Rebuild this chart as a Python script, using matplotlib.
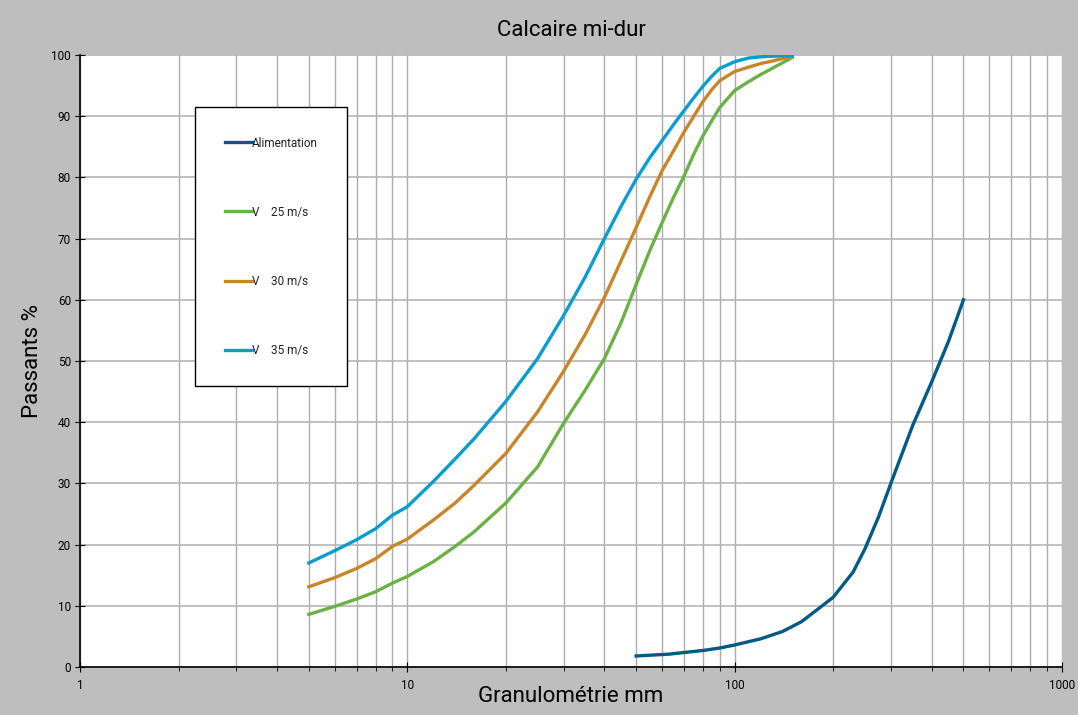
import matplotlib.pyplot as plt
from matplotlib.ticker import LogLocator, FixedLocator, NullFormatter
import numpy as np

plt.rcParams['font.family'] = ['Roboto', 'DejaVu Sans']

# Alimentation (feed)
feed_x = [50, 63, 80, 90, 100, 120, 140, 160, 180, 200, 230, 250, 275, 300, 350, 400, 450, 500]
feed_y = [1.8, 2.1, 2.7, 3.1, 3.6, 4.6, 5.8, 7.4, 9.5, 11.4, 15.5, 19.3, 24.5, 30.0, 39.5, 46.6, 53.2, 60.0]

# crushed product at different rotor speeds
size_x = [5, 6, 7, 8, 9, 10, 12, 14, 16, 20, 25, 30, 35, 40, 45, 50, 55, 60,
          65, 70, 75, 80, 85, 90, 100, 110, 120, 130, 150]
v25_y = [8.6, 9.9, 11.1, 12.3, 13.7, 14.8, 17.2, 19.7, 22.1, 26.8, 32.7, 39.8, 45.3, 50.4,
         56.3, 62.5, 68.0, 72.6, 76.7, 80.2, 83.8, 86.8, 89.2, 91.4, 94.2, 95.6, 96.8, 97.8, 99.6]
v30_y = [13.1, 14.6, 16.1, 17.7, 19.7, 20.9, 24.0, 26.8, 29.7, 34.9, 41.7, 48.3, 54.4, 60.4,
         66.4, 71.8, 76.8, 81.1, 84.3, 87.4, 90.0, 92.4, 94.3, 95.8, 97.3, 98.0, 98.6, 99.0, 99.8]
v35_y = [17.0, 19.0, 20.8, 22.6, 24.8, 26.2, 30.3, 34.0, 37.3, 43.4, 50.4, 57.4, 63.8, 70.0,
         75.3, 79.7, 83.2, 86.0, 88.6, 90.9, 93.0, 94.9, 96.5, 97.8, 98.9, 99.5, 99.7, 99.8, 99.9]

labels = ['Alimentation', 'V    25 m/s', 'V    30 m/s', 'V    35 m/s']
colors = ['#005A84', '#6AB246', '#C7862A', '#0A9CCC']

fig = plt.figure(figsize=(10.78, 7.15), dpi=100)
fig.patch.set_facecolor('#BEBEBE')
ax = fig.add_axes([80 / 1078, 48 / 715, 982 / 1078, 612 / 715])
ax.set_facecolor('white')

ax.plot(feed_x, feed_y, color=colors[0], lw=2.4, label=labels[0], solid_joinstyle='round')
for ys, lab, c in zip([v25_y, v30_y, v35_y], labels[1:], colors[1:]):
    ax.plot(size_x, ys, color=c, lw=2.4, label=lab, solid_joinstyle='round')

ax.set_xscale('log')
ax.set_xlim(1, 1000)
ax.set_ylim(0, 100)
ax.xaxis.set_major_locator(FixedLocator([1, 10, 100, 1000]))
ax.xaxis.set_minor_locator(LogLocator(base=10, subs=np.arange(2, 10)))
ax.xaxis.set_minor_formatter(NullFormatter())
ax.set_xticklabels(['1', '10', '100', '1000'])
ax.set_yticks(range(0, 101, 10))

ax.grid(True, which='both', axis='x', color='#ABABAB', lw=1)
ax.grid(True, which='major', axis='y', color='#B5B5B5', lw=1.2)
ax.set_axisbelow(True)

for s in ['top', 'right']:
    ax.spines[s].set_visible(False)
for s in ['left', 'bottom']:
    ax.spines[s].set_color('black')
    ax.spines[s].set_linewidth(1.2)

ax.tick_params(axis='y', which='major', direction='inout', length=7, labelsize=8.5, pad=3)
ax.tick_params(axis='x', which='major', direction='inout', length=7, labelsize=8.5, pad=5)
ax.tick_params(axis='x', which='minor', direction='out', length=3)

ax.set_title('Calcaire mi-dur', fontsize=16, pad=14)
ax.set_xlabel('Granulométrie mm', fontsize=16, labelpad=-4)
ax.set_ylabel('Passants %', fontsize=16, labelpad=6)

leg = ax.legend(loc='upper left', bbox_to_anchor=(115 / 982, 1 - 52 / 612),
                fontsize=8.5, labelspacing=4.75, borderpad=2.5, handlelength=2.3,
                handletextpad=0.0, borderaxespad=0, fancybox=False, framealpha=1,
                edgecolor='black')
leg.get_frame().set_linewidth(1.0)
for t in leg.get_texts():
    t.set_color('#222222')

fig.savefig('out.png', dpi=100, facecolor=fig.get_facecolor())
